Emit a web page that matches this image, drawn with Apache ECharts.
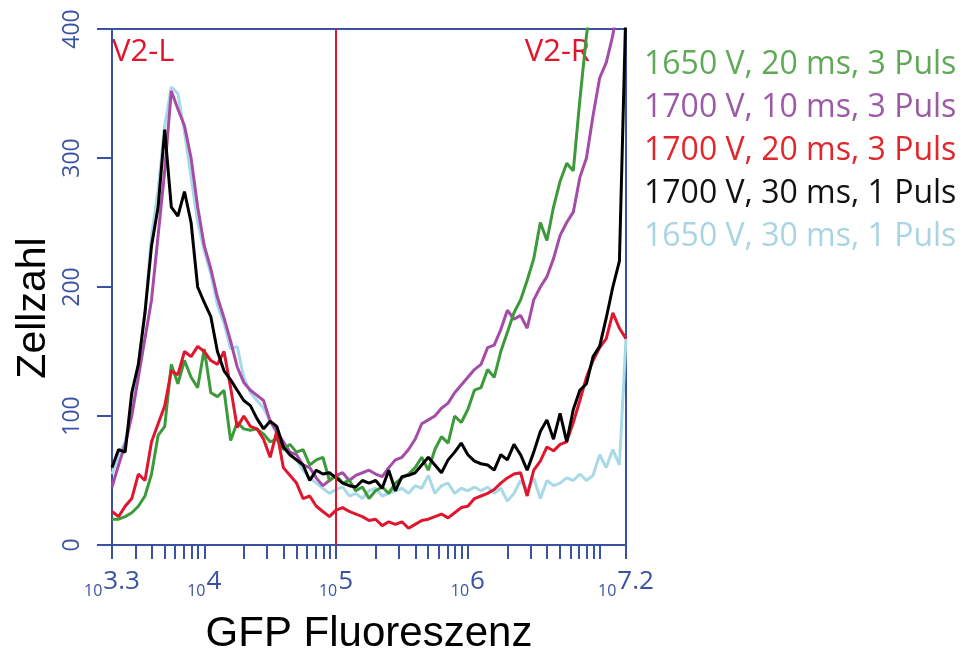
<!DOCTYPE html>
<html>
<head>
<meta charset="utf-8">
<script src="https://cdn.jsdelivr.net/npm/echarts@6/dist/echarts.min.js"></script>
<style>
html, body { margin: 0; padding: 0; background: #ffffff; }
#chart_div { width: 963px; height: 651px; }
</style>
</head>
<body>
<div id="chart_div"></div>
<script>

// histogram channels, log10 of GFP fluorescence
var binLog = [3.30,3.35,3.40,3.45,3.50,3.55,3.60,3.65,3.70,3.75,3.80,3.85,3.90,3.95,4.00,4.05,4.10,4.15,4.20,4.25,
	4.30,4.35,4.40,4.45,4.50,4.55,4.60,4.65,4.70,4.75,4.80,4.85,4.90,4.95,5.00,5.05,5.10,5.15,5.20,5.25,
	5.30,5.35,5.40,5.45,5.50,5.55,5.60,5.65,5.70,5.75,5.80,5.85,5.90,5.95,6.00,6.05,6.10,6.15,6.20,6.25,
	6.30,6.35,6.40,6.45,6.50,6.55,6.60,6.65,6.70,6.75,6.80,6.85,6.90,6.95,7.00,7.05,7.10,7.15,7.20];

// cell counts per channel
var v1650_20_3 = [20,20,22,25,30,38,55,85,92,140,125,143,130,122,152,118,115,120,81,95,
	90,89,90,86,80,82,74,78,72,74,62,66,68,50,54,48,50,42,45,36,
	42,45,40,48,52,55,60,68,58,74,84,79,100,95,105,120,122,136,130,150,
	165,180,190,205,222,250,236,262,282,296,290,345,395,430,460,480,500,520,540];
var v1700_10_3 = [45,62,78,100,130,160,190,240,290,352,338,325,300,262,232,214,192,176,158,138,
	126,120,116,112,96,88,80,72,70,62,60,52,46,50,54,56,50,54,56,58,
	55,53,60,66,68,74,82,94,97,100,106,110,118,124,130,136,140,153,155,167,
	182,175,178,168,190,200,208,222,240,250,258,285,300,333,362,374,395,430,460];
var v1700_20_3 = [26,22,30,36,55,50,80,94,108,135,132,150,146,154,150,143,140,150,122,91,
	100,92,90,82,68,88,60,54,48,36,38,30,26,22,27,29,26,24,22,19,
	20,15,18,16,18,13,16,19,20,22,24,21,25,29,30,36,38,40,43,48,
	52,55,56,38,58,65,76,73,78,80,95,112,130,143,153,160,180,168,160];
var v1700_30_1 = [60,74,72,118,140,180,232,262,322,262,255,274,250,200,188,177,150,135,128,120,
	112,108,98,90,96,92,76,70,66,62,50,58,55,56,52,48,46,45,50,48,
	50,44,58,42,53,54,56,62,68,62,56,66,72,79,70,65,63,62,58,70,
	66,78,70,58,72,88,97,82,102,80,105,120,125,146,154,176,200,220,420];
var v1650_30_1 = [55,70,80,105,140,180,240,275,325,355,350,320,285,250,228,210,186,172,152,154,
	130,118,112,106,96,86,76,70,66,58,52,48,44,40,43,45,38,40,36,42,
	44,38,40,42,44,40,46,44,54,40,46,48,40,44,42,45,42,45,40,44,
	34,40,50,42,52,36,50,46,48,52,50,55,50,54,70,60,74,62,160];

var legendNames = ['1650 V, 20 ms, 3 Puls', '1700 V, 10 ms, 3 Puls', '1700 V, 20 ms, 3 Puls', '1700 V, 30 ms, 1 Puls', '1650 V, 30 ms, 1 Puls'];
var legendColors = ['#5fa957', '#9c5aa6', '#e3262b', '#111111', '#a9d5e2'];

var xLabelValues = [3.3, 4, 5, 6, 7.2];
var xLabelTexts = ['3.3', '4', '5', '6', '7.2'];
var yTickValues = [0, 100, 200, 300, 400];
var gateValue = 5;

var axisBlue = '#3a52a3';

function f_pairs(vals) {
	var t = [];
	for (var i = 0; i < binLog.length; i++) {
		t.push([binLog[i], vals[i]]);
	}
	return t;
}

function f_log_ticks(lo, hi) {
	var t = [lo];
	for (var d = Math.floor(lo); d <= Math.ceil(hi); d++) {
		for (var m = 1; m <= 9; m++) {
			var v = d + Math.log10(m);
			if (v > lo && v < hi) t.push(v);
		}
	}
	t.push(hi);
	return t;
}

function f_line(name, vals, color) {
	return {
		name: name,
		type: 'line',
		data: f_pairs(vals),
		symbol: 'none',
		clip: true,
		lineStyle: { color: color, width: 3 },
		itemStyle: { color: color },
		emphasis: { disabled: true }
	};
}

// drawing order: light blue at the back, black on top
var t_series = [
	f_line(legendNames[4], v1650_30_1, '#a8d9e6'),
	f_line(legendNames[1], v1700_10_3, '#a54ca8'),
	f_line(legendNames[0], v1650_20_3, '#3c9a3a'),
	f_line(legendNames[2], v1700_20_3, '#e0162e'),
	f_line(legendNames[3], v1700_30_1, '#000000')
];
t_series[3].markLine = {
	silent: true,
	symbol: ['none', 'none'],
	label: { show: false },
	lineStyle: { color: '#e0162e', width: 2, type: 'solid' },
	data: [{ xAxis: gateValue }]
};

var t_legend_data = [];
for (var i in legendNames) {
	t_legend_data.push({ name: legendNames[i], textStyle: { color: legendColors[i] } });
}

var chart = echarts.init(document.getElementById('chart_div'));
chart.setOption({
	animation: false,
	backgroundColor: '#ffffff',
	grid: {
		left: 112, right: 337, top: 29, bottom: 106,
		containLabel: false, outerBoundsMode: 'none',
		show: true, borderColor: axisBlue, borderWidth: 2
	},
	legend: {
		orient: 'vertical',
		left: 634, top: 44,
		icon: 'none',
		itemWidth: 0, itemHeight: 0, itemGap: 11,
		selectedMode: false,
		textStyle: { fontFamily: 'Open Sans', fontSize: 32, lineHeight: 32, padding: 0 },
		data: t_legend_data
	},
	xAxis: {
		type: 'value',
		min: 3.3, max: 7.2,
		splitLine: { show: false },
		axisLine: { lineStyle: { color: axisBlue, width: 2 } },
		axisTick: {
			show: true, inside: false, length: 14,
			customValues: f_log_ticks(3.3, 7.2),
			lineStyle: { color: axisBlue, width: 2 }
		},
		axisLabel: {
			margin: 24,
			customValues: xLabelValues,
			formatter: function(v) {
				for (var k = 0; k < xLabelValues.length; k++) {
					if (Math.abs(xLabelValues[k] - v) < 1e-6) return '{b|10}{e|' + xLabelTexts[k] + '}';
				}
				return '';
			},
			rich: {
				b: { fontFamily: 'Open Sans', fontSize: 16, color: axisBlue, verticalAlign: 'bottom', padding: [0, 1, 0, 0] },
				e: { fontFamily: 'Open Sans', fontSize: 26, color: axisBlue, verticalAlign: 'bottom', padding: [0, 0, 4, 0] }
			}
		},
		name: 'GFP Fluoreszenz',
		nameLocation: 'middle',
		nameGap: 68,
		nameTextStyle: { fontFamily: 'Liberation Sans', fontSize: 42, color: '#000000' }
	},
	yAxis: {
		type: 'value',
		min: 0, max: 400, interval: 100,
		splitLine: { show: false },
		axisLine: { show: true, lineStyle: { color: axisBlue, width: 2 } },
		axisTick: { show: true, inside: false, length: 15, lineStyle: { color: axisBlue, width: 2 } },
		axisLabel: {
			rotate: 90, margin: 28,
			color: axisBlue, fontFamily: 'Open Sans', fontSize: 23,
			customValues: yTickValues
		}
	},
	graphic: [
		{
			type: 'text', x: 34, y: 308, rotation: Math.PI / 2,
			style: { text: 'Zellzahl', fontFamily: 'Liberation Sans', fontSize: 41, fill: '#000000', align: 'center', verticalAlign: 'middle' }
		},
		{
			type: 'text', x: 112, y: 52,
			style: { text: 'V2-L', fontFamily: 'Open Sans', fontSize: 31, fill: '#e0162e', align: 'left', verticalAlign: 'middle' }
		},
		{
			type: 'text', x: 590, y: 52,
			style: { text: 'V2-R', fontFamily: 'Open Sans', fontSize: 31, fill: '#e0162e', align: 'right', verticalAlign: 'middle' }
		}
	],
	series: t_series
});

</script>
</body>
</html>
